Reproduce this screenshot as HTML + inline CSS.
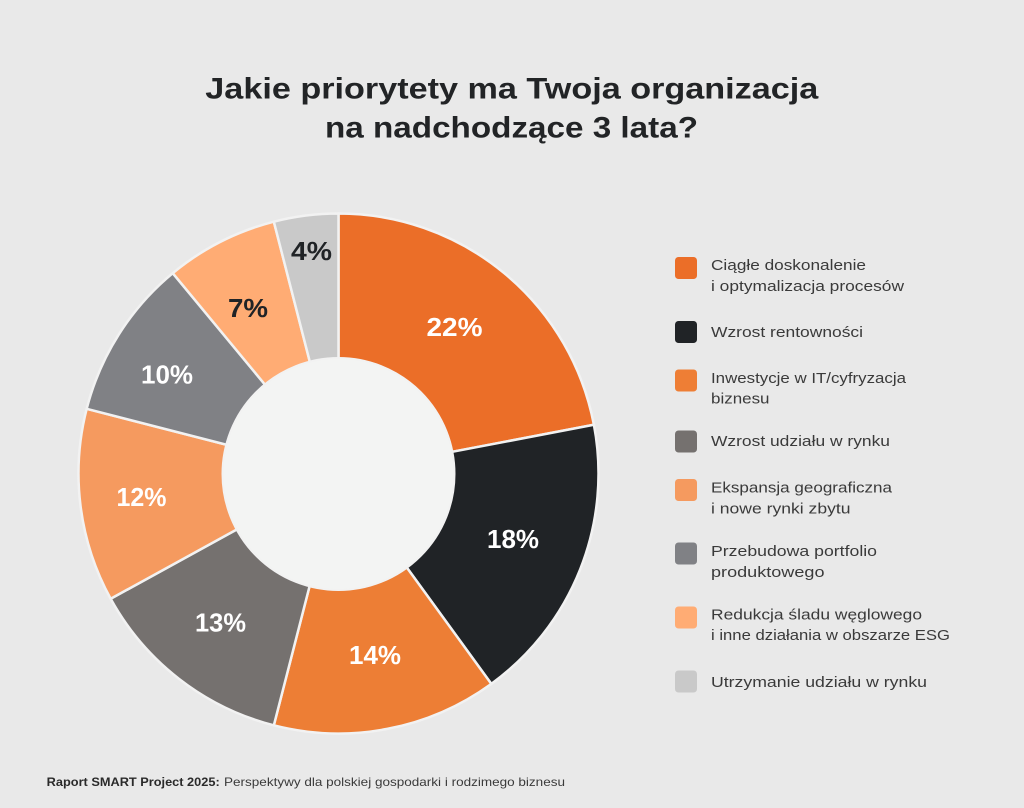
<!DOCTYPE html>
<html>
<head>
<meta charset="utf-8">
<style>
  html,body{margin:0;padding:0;background:#e9e9e9;}
  svg{display:block;}
  text{font-family:"Liberation Sans","DejaVu Sans",sans-serif;}
</style>
</head>
<body>
<svg width="1024" height="808" viewBox="0 0 1024 808" xmlns="http://www.w3.org/2000/svg">
  <rect x="0" y="0" width="1024" height="808" fill="#e9e9e9"/>

  <!-- Title -->
  <text x="511.8" y="98.5" text-anchor="middle" font-size="30" font-weight="bold" fill="#222426" textLength="613" lengthAdjust="spacingAndGlyphs">Jakie priorytety ma Twoja organizacja</text>
  <text x="511.5" y="137.5" text-anchor="middle" font-size="30" font-weight="bold" fill="#222426" textLength="373" lengthAdjust="spacingAndGlyphs">na nadchodzące 3 lata?</text>

  <!-- Donut -->
  <g stroke="#f2f2f2" stroke-width="2.5" stroke-linejoin="round">
    <path d="M338.5 473.5 L338.5 213.5 A260 260 0 0 1 593.90 424.78 Z" fill="#eb6e28"/>
    <path d="M338.5 473.5 L593.90 424.78 A260 260 0 0 1 491.32 683.84 Z" fill="#202326"/>
    <path d="M338.5 473.5 L491.32 683.84 A260 260 0 0 1 273.84 725.33 Z" fill="#ed7e35"/>
    <path d="M338.5 473.5 L273.84 725.33 A260 260 0 0 1 110.66 598.76 Z" fill="#75716f"/>
    <path d="M338.5 473.5 L110.66 598.76 A260 260 0 0 1 86.67 408.84 Z" fill="#f59a5f"/>
    <path d="M338.5 473.5 L86.67 408.84 A260 260 0 0 1 172.77 273.17 Z" fill="#808185"/>
    <path d="M338.5 473.5 L172.77 273.17 A260 260 0 0 1 273.84 221.67 Z" fill="#ffac74"/>
    <path d="M338.5 473.5 L273.84 221.67 A260 260 0 0 1 338.5 213.5 Z" fill="#c9c9c9"/>
  </g>
  <circle cx="338.5" cy="474" r="116" fill="#f3f4f3" stroke="#f2f2f2" stroke-width="2"/>

  <!-- Slice labels -->
  <g font-size="26" font-weight="bold" text-anchor="middle">
    <text x="454.5" y="336" fill="#ffffff" textLength="56" lengthAdjust="spacingAndGlyphs">22%</text>
    <text x="513" y="548" fill="#ffffff" textLength="52" lengthAdjust="spacingAndGlyphs">18%</text>
    <text x="375" y="664" fill="#ffffff" textLength="52" lengthAdjust="spacingAndGlyphs">14%</text>
    <text x="220.5" y="631.5" fill="#ffffff" textLength="51" lengthAdjust="spacingAndGlyphs">13%</text>
    <text x="141.5" y="506" fill="#ffffff" textLength="50" lengthAdjust="spacingAndGlyphs">12%</text>
    <text x="167" y="383.5" fill="#ffffff" textLength="52" lengthAdjust="spacingAndGlyphs">10%</text>
    <text x="248" y="317" fill="#202326" textLength="40" lengthAdjust="spacingAndGlyphs">7%</text>
    <text x="311.5" y="260" fill="#202326" textLength="41" lengthAdjust="spacingAndGlyphs">4%</text>
  </g>

  <!-- Legend -->
  <g>
    <rect x="675" y="257" width="22" height="22" rx="3.5" fill="#eb6e28"/>
    <rect x="675" y="321" width="22" height="22" rx="3.5" fill="#202326"/>
    <rect x="675" y="369.5" width="22" height="22" rx="3.5" fill="#ee7e35"/>
    <rect x="675" y="430.5" width="22" height="22" rx="3.5" fill="#75716f"/>
    <rect x="675" y="479" width="22" height="22" rx="3.5" fill="#f59a5f"/>
    <rect x="675" y="542.5" width="22" height="22" rx="3.5" fill="#808185"/>
    <rect x="675" y="606.5" width="22" height="22" rx="3.5" fill="#ffac74"/>
    <rect x="675" y="670.5" width="22" height="22" rx="3.5" fill="#c9c9c9"/>
  </g>
  <g font-size="15" fill="#3a3a3a">
    <text x="711" y="270" textLength="155" lengthAdjust="spacingAndGlyphs">Ciągłe doskonalenie</text>
    <text x="711" y="291" textLength="193" lengthAdjust="spacingAndGlyphs">i optymalizacja procesów</text>
    <text x="711" y="337" textLength="152" lengthAdjust="spacingAndGlyphs">Wzrost rentowności</text>
    <text x="711" y="383" textLength="195" lengthAdjust="spacingAndGlyphs">Inwestycje w IT/cyfryzacja</text>
    <text x="711" y="403.5" textLength="58.5" lengthAdjust="spacingAndGlyphs">biznesu</text>
    <text x="711" y="446" textLength="179" lengthAdjust="spacingAndGlyphs">Wzrost udziału w rynku</text>
    <text x="711" y="492.5" textLength="181" lengthAdjust="spacingAndGlyphs">Ekspansja geograficzna</text>
    <text x="711" y="513.5" textLength="139.5" lengthAdjust="spacingAndGlyphs">i nowe rynki zbytu</text>
    <text x="711" y="556" textLength="166" lengthAdjust="spacingAndGlyphs">Przebudowa portfolio</text>
    <text x="711" y="577" textLength="113.5" lengthAdjust="spacingAndGlyphs">produktowego</text>
    <text x="711" y="619.5" textLength="211" lengthAdjust="spacingAndGlyphs">Redukcja śladu węglowego</text>
    <text x="711" y="640" textLength="239" lengthAdjust="spacingAndGlyphs">i inne działania w obszarze ESG</text>
    <text x="711" y="687" textLength="216" lengthAdjust="spacingAndGlyphs">Utrzymanie udziału w rynku</text>
  </g>

  <!-- Footer -->
  <text x="46.7" y="786" font-size="12" font-weight="bold" fill="#2a2a2a" textLength="173" lengthAdjust="spacingAndGlyphs">Raport SMART Project 2025:</text>
  <text x="224" y="786" font-size="12" fill="#3a3a3a" textLength="341" lengthAdjust="spacingAndGlyphs">Perspektywy dla polskiej gospodarki i rodzimego biznesu</text>
</svg>
</body>
</html>
